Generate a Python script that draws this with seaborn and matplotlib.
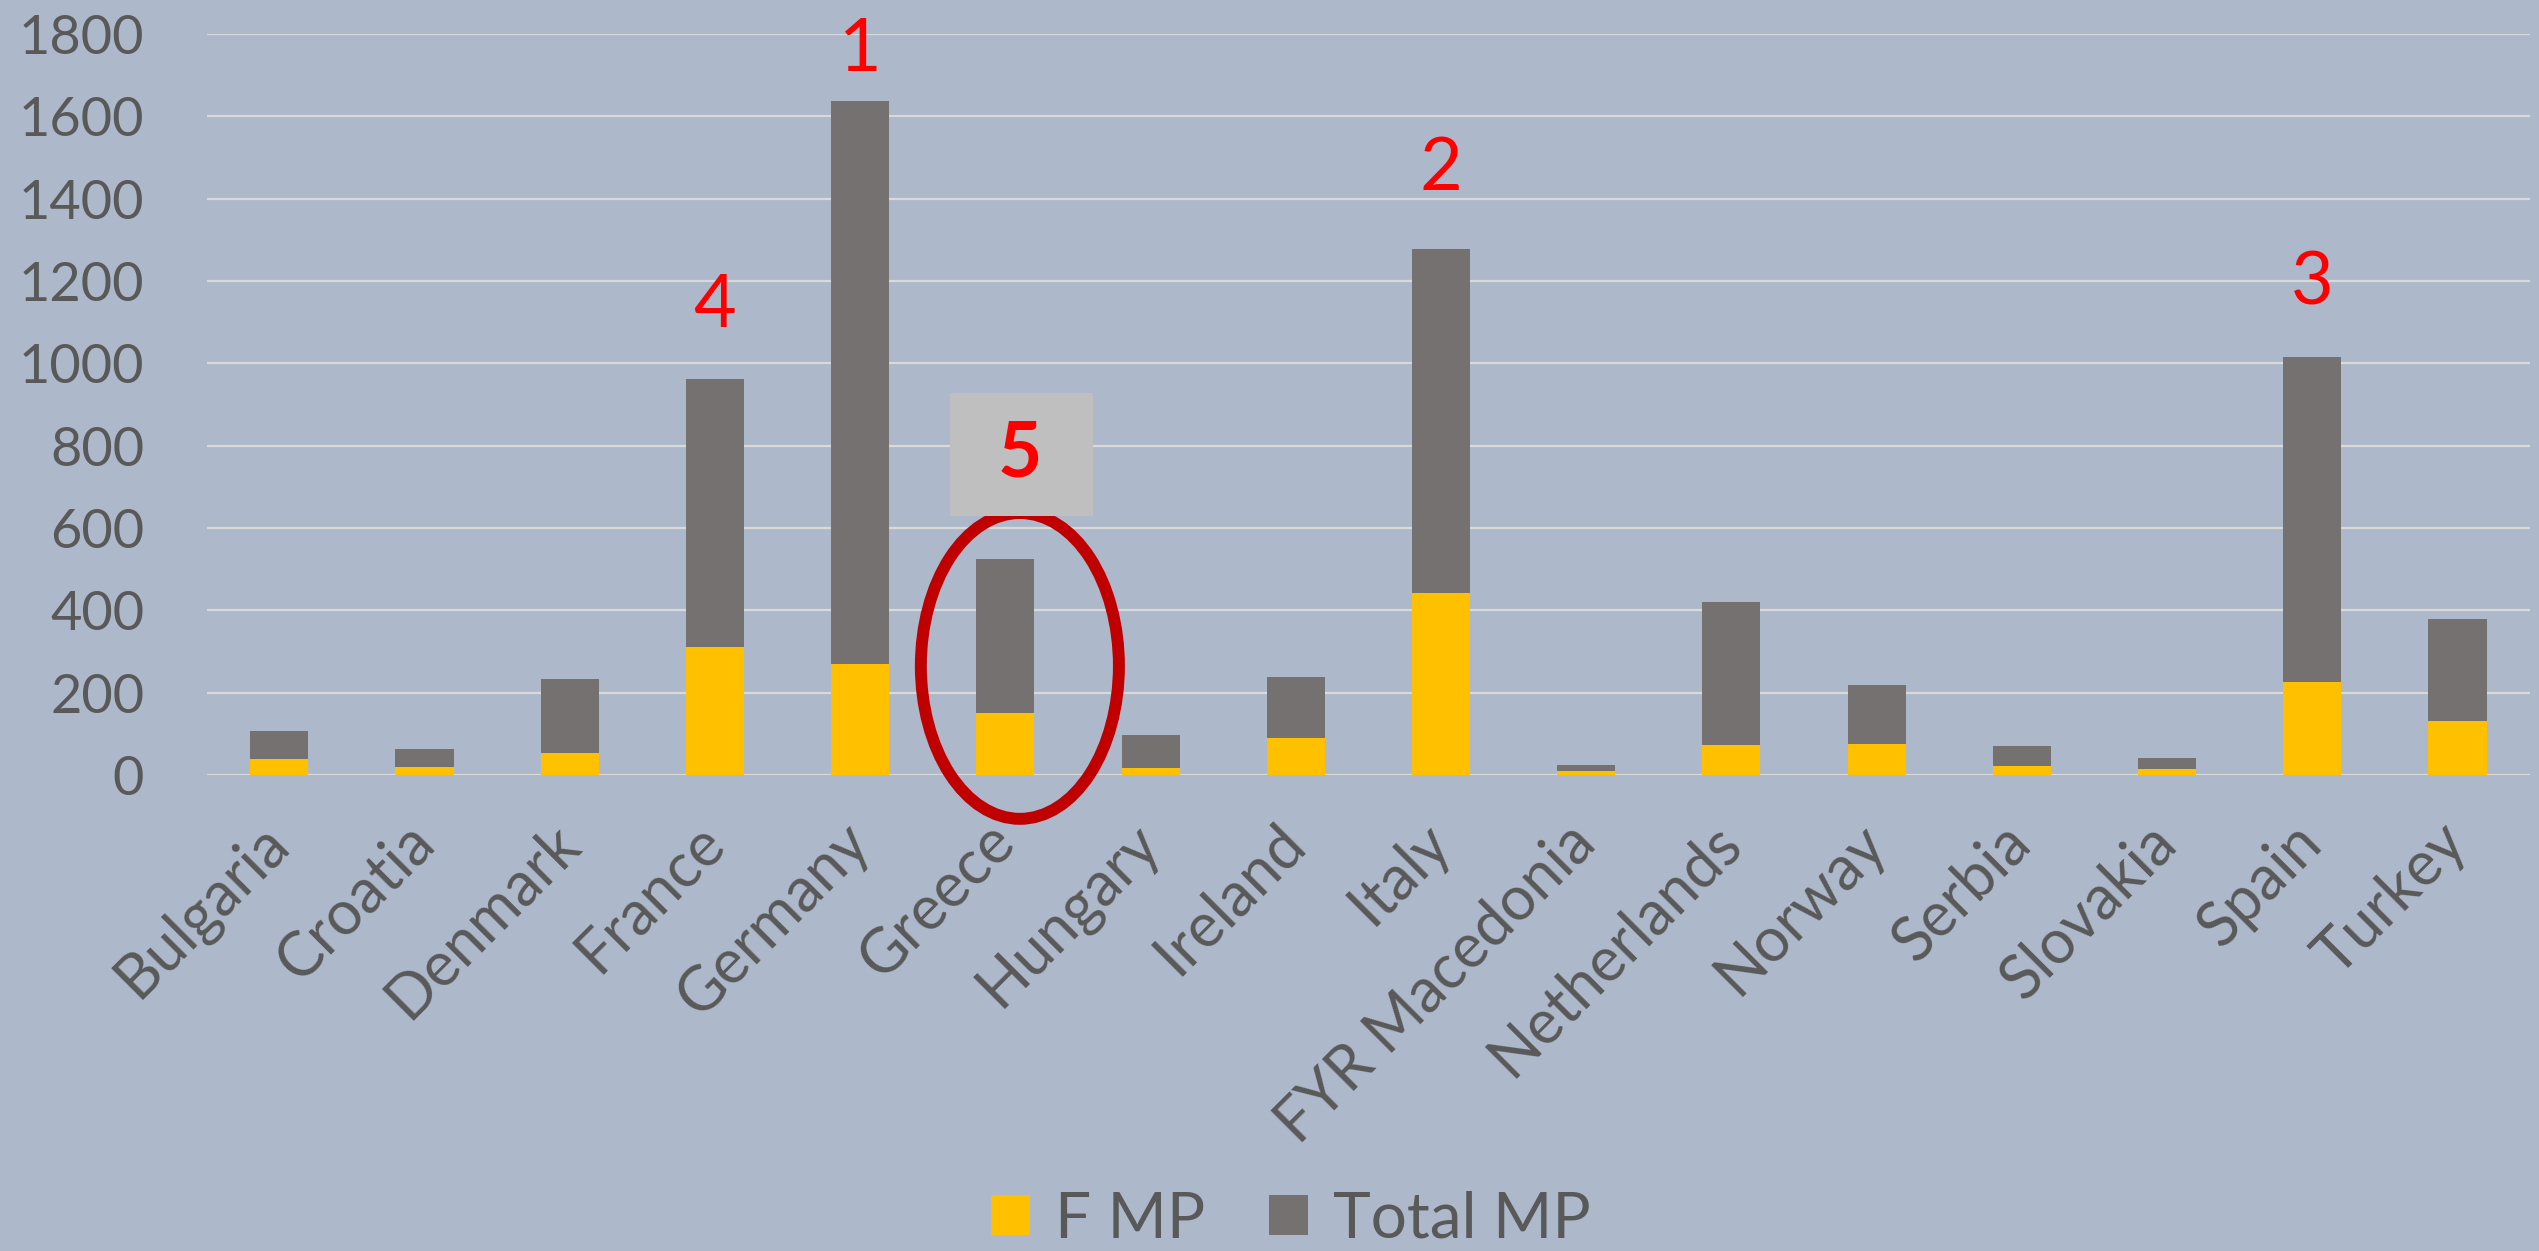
import matplotlib
matplotlib.use("Agg")
import matplotlib.pyplot as plt
import seaborn as sns
import pandas as pd
from matplotlib.patches import Patch, Ellipse, Rectangle

countries = ["Bulgaria", "Croatia", "Denmark", "France", "Germany", "Greece",
             "Hungary", "Ireland", "Italy", "FYR Macedonia", "Netherlands",
             "Norway", "Serbia", "Slovakia", "Spain", "Turkey"]
f_mp = [38, 19, 53, 311, 269, 150, 18, 89, 442, 9, 72, 76, 22, 14, 227, 130]
total_mp = [108, 63, 233, 961, 1638, 525, 97, 239, 1279, 25, 420, 219, 71, 42, 1016, 379]
rank_labels = {"Germany": "1", "Italy": "2", "Spain": "3", "France": "4"}
yticks = [0, 200, 400, 600, 800, 1000, 1200, 1400, 1600, 1800]

BG = "#ADB9CA"
YELLOW = "#FFC000"
GRAY = "#767171"
TXT = "#595959"

sns.set_theme(style="white")
plt.rcParams["font.family"] = ["Lato", "DejaVu Sans"]

df = pd.DataFrame({"country": countries, "F MP": f_mp, "Total MP": total_mp})

fig = plt.figure(figsize=(25.39, 12.51), dpi=100, facecolor=BG)
ax = fig.add_axes([0.0814, 0.3805, 0.9151, 0.5922])
ax.set_facecolor(BG)

sns.barplot(data=df, x="country", y="Total MP", color=GRAY, width=0.4,
            saturation=1, ax=ax, zorder=3, linewidth=0, edgecolor="none")
sns.barplot(data=df, x="country", y="F MP", color=YELLOW, width=0.4,
            saturation=1, ax=ax, zorder=4, linewidth=0, edgecolor="none")

ax.set_ylim(0, 1800)
ax.set_xlim(-0.5, len(countries) - 0.5)
ax.set_yticks(yticks)
ax.set_yticklabels([str(v) for v in yticks])
ax.yaxis.grid(True, color="#D9D9D9", linewidth=1.6, zorder=0)
ax.set_axisbelow(True)
for s in ax.spines.values():
    s.set_visible(False)
ax.set_xlabel("")
ax.set_ylabel("")
ax.tick_params(axis="y", length=0, pad=45, labelsize=39, labelcolor=TXT)
ax.tick_params(axis="x", length=0, pad=42, labelsize=44, labelcolor=TXT)
for lab in ax.get_xticklabels():
    lab.set_rotation(45)
    lab.set_ha("right")
    lab.set_va("center")
    lab.set_rotation_mode("anchor")

# red rank numbers (baseline y in data units)
rank_y = {"Germany": 1710, "Italy": 1421, "Spain": 1142, "France": 1088}
for name, txt in rank_labels.items():
    i = countries.index(name)
    ax.text(i, rank_y[name], txt, color="#FF0000", fontsize=53, ha="center",
            va="baseline", zorder=6)

# Greece highlight
gi = countries.index("Greece")
ell = Ellipse((gi + 0.10, 265), width=1.364, height=743, fill=False,
              edgecolor="#C00000", linewidth=8.6, zorder=7, clip_on=False)
ax.add_patch(ell)
box = Rectangle((gi - 0.38, 629), 0.985, 299, facecolor="#BFBFBF",
                edgecolor="none", zorder=8, clip_on=False)
ax.add_patch(box)
ax.text(gi + 0.10, 779, "5", color="#FF0000", fontsize=55, fontweight="bold",
        ha="center", va="center", zorder=9)

handles = [Patch(facecolor=YELLOW, edgecolor="none", label="F MP"),
           Patch(facecolor=GRAY, edgecolor="none", label="Total MP")]
fig.legend(handles=handles, loc="center", bbox_to_anchor=(0.5085, 0.025),
           ncol=2, frameon=False, fontsize=46, labelcolor=TXT,
           handlelength=0.6, handleheight=0.6, handletextpad=0.4,
           columnspacing=1.0, borderaxespad=0, borderpad=0)

fig.savefig("out.png", dpi=100, facecolor=BG)
